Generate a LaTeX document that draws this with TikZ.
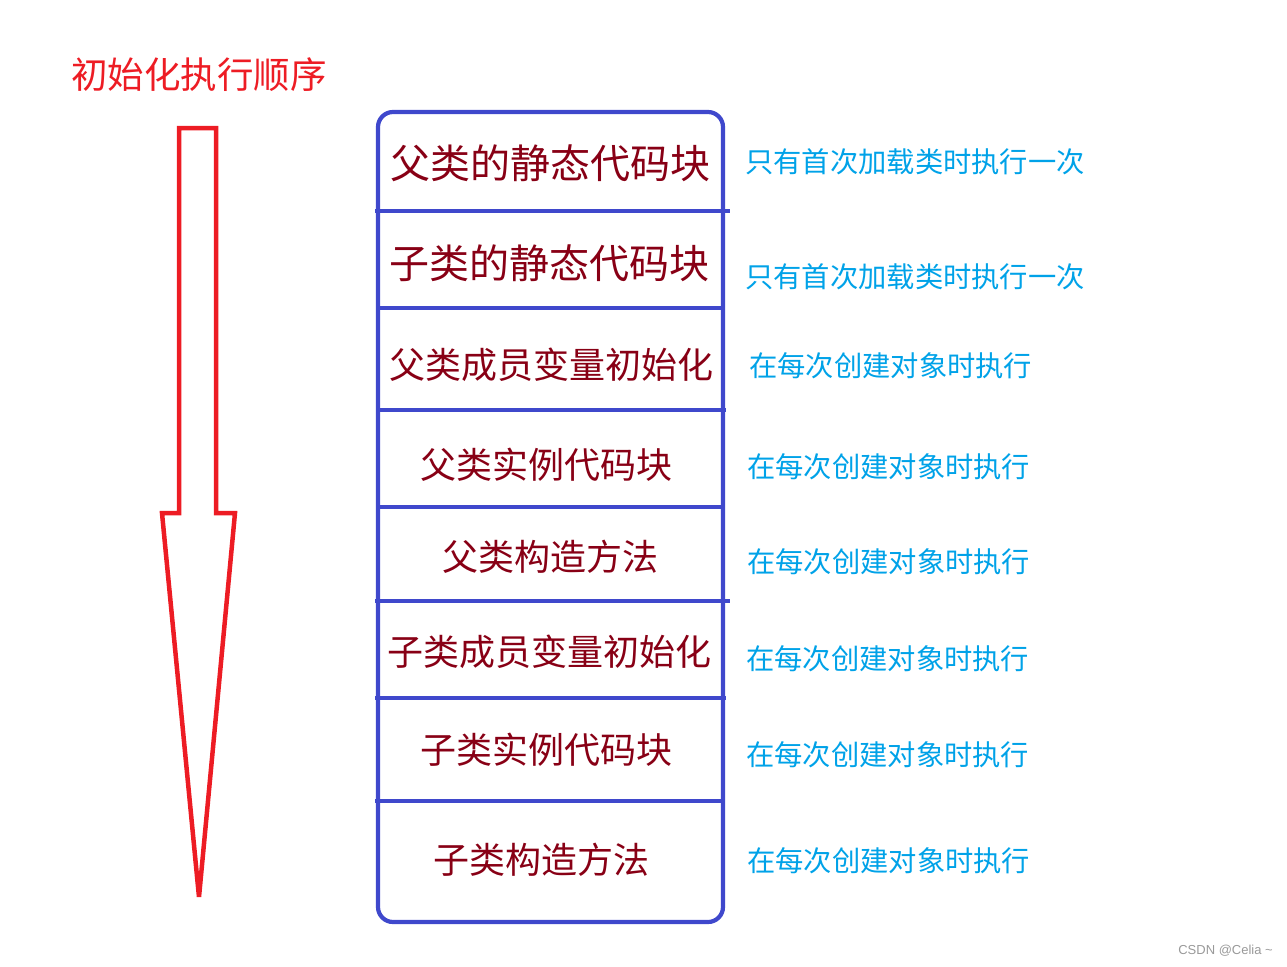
\documentclass[tikz,border=0pt]{standalone}
\usepackage{fontspec}
\setmainfont{Noto Sans CJK SC}
\newfontfamily\wmfont{Liberation Sans}
\definecolor{arrowred}{HTML}{ED1C24}
\definecolor{boxblue}{HTML}{3F48CC}
\definecolor{darkred}{HTML}{880015}
\definecolor{skyblue}{HTML}{00A2E8}
\tikzset{
  boxline/.style={draw=boxblue, line width=4.2pt},
  bigtxt/.style={text=darkred, inner sep=0pt, font=\fontsize{40}{44}\selectfont},
  midtxt/.style={text=darkred, inner sep=0pt, font=\fontsize{36}{40}\selectfont},
  note/.style={text=skyblue, inner sep=0pt, anchor=west, font=\fontsize{28.3}{32}\selectfont},
}
\begin{document}
\begin{tikzpicture}[x=1pt,y=-1pt]
\useasboundingbox (0,0) rectangle (1287,966);
% title
\node[text=arrowred, inner sep=0pt, anchor=west, font=\fontsize{36.5}{40}\selectfont] (title) at (71,75) {初始化执行顺序};
% arrow
\draw[draw=arrowred, line width=4.5pt, line join=miter]
  (179,128) -- (216,128) -- (216,513) -- (235,513) -- (199,897) -- (162,513) -- (179,513) -- cycle;
% box
\draw[boxline, rounded corners=15pt] (378,112) rectangle (723,922);
\draw[boxline] (375,211) -- (730,211);
\draw[boxline] (378,308) -- (723,308);
\draw[boxline] (378,410) -- (726,410);
\draw[boxline] (378,507) -- (723,507);
\draw[boxline] (375,601) -- (730,601);
\draw[boxline] (375,698) -- (726,698);
\draw[boxline] (375,801) -- (723,801);
% box texts
\node[bigtxt] (r1) at (550,163) {父类的静态代码块};
\node[bigtxt] (r2) at (549,263) {子类的静态代码块};
\node[midtxt] (r3) at (551,365) {父类成员变量初始化};
\node[midtxt] (r4) at (546,465) {父类实例代码块};
\node[midtxt] (r5) at (550,557) {父类构造方法};
\node[midtxt] (r6) at (549,652) {子类成员变量初始化};
\node[midtxt] (r7) at (546,750) {子类实例代码块};
\node[midtxt] (r8) at (541,860) {子类构造方法};
% notes
\node[note] (n1) at (745,162) {只有首次加载类时执行一次};
\node[note] (n2) at (745,277) {只有首次加载类时执行一次};
\node[note] (n3) at (749,366) {在每次创建对象时执行};
\node[note] (n4) at (747,467) {在每次创建对象时执行};
\node[note] (n5) at (747,562) {在每次创建对象时执行};
\node[note] (n6) at (746,659) {在每次创建对象时执行};
\node[note] (n7) at (746,755) {在每次创建对象时执行};
\node[note] (n8) at (747,861) {在每次创建对象时执行};
% watermark
\node[text=gray!80, inner sep=0pt, anchor=east, font=\wmfont\fontsize{13}{15}\selectfont] (wm) at (1273,951) {CSDN @Celia \textasciitilde};
\end{tikzpicture}
\end{document}
